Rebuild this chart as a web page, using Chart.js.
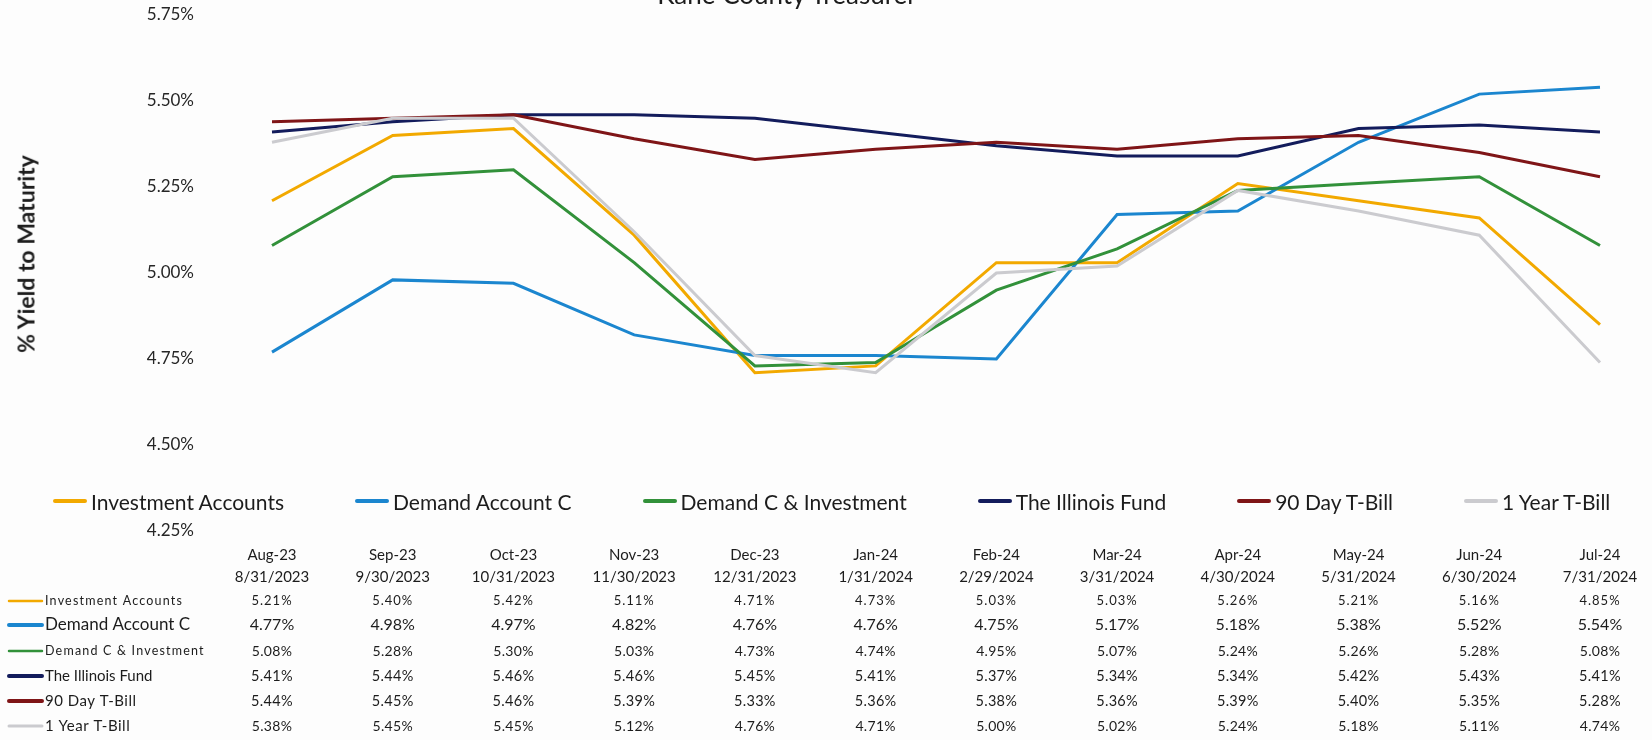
<!DOCTYPE html>
<html>
<head>
<meta charset="utf-8">
<script src="https://cdn.jsdelivr.net/npm/chart.js@4.4.1/dist/chart.umd.min.js"></script>
<style>
  body { margin: 0; background: #fdfdfd; font-family: Lato, "Open Sans", sans-serif; color: #1c1c1c; }
  #wrap { position: relative; width: 1652px; height: 740px; overflow: hidden; }
  #chartTitle { position: absolute; left: 787px; top: -21px; transform: translateX(-50%);
    font-size: 26px; line-height: 1.2; white-space: nowrap; }
  #yTitle { position: absolute; left: 26px; top: 254px; transform: translate(-50%, -50%) rotate(-90deg);
    font-size: 23px; font-weight: bold; white-space: nowrap; line-height: 1; }
  #legend { position: absolute; left: 53px; top: 488px; height: 26px; display: flex; gap: 71px;
    align-items: center; font-size: 21px; white-space: nowrap; }
  #legend .item { display: flex; align-items: center; }
  #legend .swatch { width: 34px; height: 4px; border-radius: 2px; margin-right: 4px; }
</style>
</head>
<body>
<div id="wrap">
  <canvas id="yieldChart" width="1652" height="740"></canvas>
  <div id="chartTitle">Kane County Treasurer</div>
  <div id="yTitle">% Yield to Maturity</div>
  <div id="legend"></div>
</div>
<script>
// month labels, two lines each (month / month-end date)
var months = ['Aug-23', 'Sep-23', 'Oct-23', 'Nov-23', 'Dec-23', 'Jan-24', 'Feb-24', 'Mar-24', 'Apr-24', 'May-24', 'Jun-24', 'Jul-24'];
var monthEnds = ['8/31/2023', '9/30/2023', '10/31/2023', '11/30/2023', '12/31/2023', '1/31/2024', '2/29/2024', '3/31/2024', '4/30/2024', '5/31/2024', '6/30/2024', '7/31/2024'];

var investmentAccounts = [5.21, 5.40, 5.42, 5.11, 4.71, 4.73, 5.03, 5.03, 5.26, 5.21, 5.16, 4.85];
var demandAccountC     = [4.77, 4.98, 4.97, 4.82, 4.76, 4.76, 4.75, 5.17, 5.18, 5.38, 5.52, 5.54];
var demandCInvestment  = [5.08, 5.28, 5.30, 5.03, 4.73, 4.74, 4.95, 5.07, 5.24, 5.26, 5.28, 5.08];
var illinoisFund       = [5.41, 5.44, 5.46, 5.46, 5.45, 5.41, 5.37, 5.34, 5.34, 5.42, 5.43, 5.41];
var tBill90            = [5.44, 5.45, 5.46, 5.39, 5.33, 5.36, 5.38, 5.36, 5.39, 5.40, 5.35, 5.28];
var tBill1Yr           = [5.38, 5.45, 5.45, 5.12, 4.76, 4.71, 5.00, 5.02, 5.24, 5.18, 5.11, 4.74];

var seriesNames = ['Investment Accounts', 'Demand Account C', 'Demand C & Investment', 'The Illinois Fund', '90 Day T-Bill', '1 Year T-Bill'];
var seriesData = [investmentAccounts, demandAccountC, demandCInvestment, illinoisFund, tBill90, tBill1Yr];
var seriesColors = ['#f2a900', '#1b86cf', '#32913a', '#131c5c', '#7f1517', '#cbcbcf'];

var yMin = 4.25, yMax = 5.75, yStep = 0.25;

// data table under the chart (styles copied from the scanned sheet)
var rowY = [601, 625, 651, 676, 701, 726];
var rowLabelFont = ['12.5px Lato', '17px Lato', '12.5px Lato', '15px Lato', '15px Lato', '15px Lato'];
var rowLabelSpacing = ['1.2px', '0px', '1.2px', '0px', '0.5px', '0.5px'];
var rowValueFont = ['13px Lato', '16px Lato', '14px Lato', '14.5px Lato', '14.5px Lato', '14px Lato'];
var rowValueSpacing = ['1px', '0px', '0.3px', '0.3px', '0.3px', '0.3px'];
var rowSwatchWidth = [2.5, 4, 2.5, 4, 4, 3];

var legendEl = document.getElementById('legend');
seriesNames.forEach(function (name, i) {
    var item = document.createElement('div');
    item.className = 'item';
    var sw = document.createElement('span');
    sw.className = 'swatch';
    sw.style.background = seriesColors[i];
    item.appendChild(sw);
    item.appendChild(document.createTextNode(name));
    legendEl.appendChild(item);
});

var tablePlugin = {
    id: 'dataTable',
    afterDraw: function (chart) {
        var ctx = chart.ctx;
        var xs = chart.scales.x;
        ctx.save();
        ctx.textBaseline = 'middle';
        seriesData.forEach(function (values, r) {
            var y = rowY[r];
            ctx.strokeStyle = seriesColors[r];
            ctx.lineWidth = rowSwatchWidth[r];
            ctx.lineCap = 'round';
            ctx.beginPath();
            ctx.moveTo(9, y);
            ctx.lineTo(42, y);
            ctx.stroke();

            ctx.fillStyle = '#1c1c1c';
            ctx.textAlign = 'left';
            ctx.font = rowLabelFont[r];
            ctx.letterSpacing = rowLabelSpacing[r];
            ctx.fillText(seriesNames[r], 45, y);

            ctx.textAlign = 'center';
            ctx.font = rowValueFont[r];
            ctx.letterSpacing = rowValueSpacing[r];
            values.forEach(function (v, i) {
                ctx.fillText(v.toFixed(2) + '%', xs.getPixelForValue(i), y);
            });
        });
        ctx.restore();
    }
};

var datasets = seriesNames.map(function (name, i) {
    return {
        label: name,
        data: seriesData[i],
        borderColor: seriesColors[i],
        backgroundColor: seriesColors[i],
        borderWidth: 3,
        pointRadius: 0,
        tension: 0,
        fill: false,
        order: seriesNames.length - 1 - i
    };
});

var ctx = document.getElementById('yieldChart').getContext('2d');
var yieldChart = new Chart(ctx, {
    type: 'line',
    data: {
        labels: months.map(function (m, i) { return [m, monthEnds[i]]; }),
        datasets: datasets
    },
    options: {
        responsive: false,
        animation: false,
        layout: { padding: { top: 15, right: 52, left: 0, bottom: 0 } },
        plugins: {
            legend: { display: false },
            tooltip: { enabled: false }
        },
        scales: {
            x: {
                grid: { display: false, drawTicks: false },
                border: { display: false },
                ticks: {
                    padding: 13,
                    autoSkip: false,
                    maxRotation: 0,
                    color: '#1c1c1c',
                    font: { family: 'Lato', size: 15, lineHeight: '22px' }
                },
                afterFit: function (s) { s.height = 209; }
            },
            y: {
                min: yMin,
                max: yMax,
                // invisible tick marks keep the labels well left of the plot
                grid: { display: true, drawOnChartArea: false, drawTicks: true, tickLength: 78, color: 'rgba(0,0,0,0)' },
                border: { display: false },
                ticks: {
                    stepSize: yStep,
                    padding: 0,
                    color: '#262626',
                    font: { family: 'Lato', size: 17 },
                    callback: function (v) { return v.toFixed(2) + '%'; }
                },
                afterFit: function (s) { s.width = 272; }
            }
        }
    },
    plugins: [tablePlugin]
});
</script>
</body>
</html>
